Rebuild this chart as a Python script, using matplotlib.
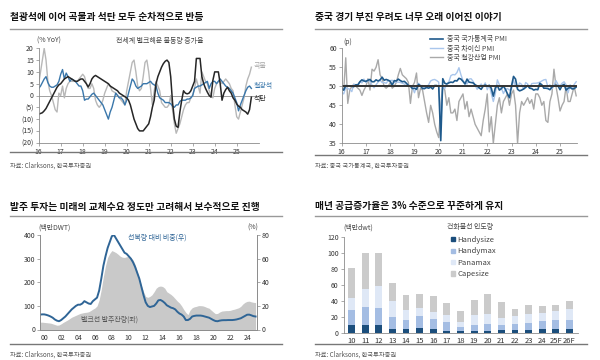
import numpy as np
import matplotlib
matplotlib.use('Agg')
import matplotlib.pyplot as plt
from matplotlib.lines import Line2D
from matplotlib.patches import Patch
from matplotlib.ticker import FuncFormatter

plt.rcParams['font.family'] = ['Noto Sans CJK KR', 'DejaVu Sans']

# ---------------- Panel 1: bulk seaborne trade growth (% YoY), monthly from 2016-01
grain = [5, 10, 15, 20, 15, 6, 2, 0, -3, -6, -7, 1,
         0, 4, -1, 3, 5, 6, 6, 6, 6, 6, 7, 8,
         9, 8, 5, 3, 3, 5, 3, -2, -4, -5, -4, -2,
         1, 3, 5, 4, 2, 1.5, 1, 0, -1, -2, -3, -4,
         2, 6, 10, 14, 15, 10, 4, 2, 3, 8, 14, 15,
         10, 3, -4, 2, 6, 4, 2, -3, -4, -5, -5, -4,
         0, -6, -12, -16, -14, -12, -9, -6, -4, -3, -3, -1,
         0, 3, 7, 4, 1, 10, 8, 6, 5, 2, 0, -1,
         3, 5, 6, 6, 5, 6, 7, 6, 5, 3, 2, -4,
         -9, -10, -7, -4, -1, 4, 7, 9, 12]
iron_ore = [3, 4, 5.5, 7, 8, 5.5, 4, 3.5, 3.5, 4, 4.5, 6,
            9, 11, 7, 9.5, 8, 6, 7, 6.5, 6, 5, 4, 4,
            2, -2, -1.5, -1.5, -0.5, 0.5, 1, 0, -1, -2, -3, -4,
            -6, -8, -10, -7, -5, -2, 1, 0, -1, -1, -2, -4,
            -2, 1, 4, 7, 6, 4, 3, 3.5, 4, 5, 5, 5,
            5.5, 6, 5, 4.5, 4, 1, -1, -1.5, -2, -3, -3, -3,
            -3.5, -4.5, -5, -4, -4, -2.5, -2, -2, -2, -1.5, -1.5, -1,
            0, 3, 3.5, 4, 4, 4.5, 5, 5.5, 6, 3, 5, 6,
            6, 5, 6, 7, 6, 5, 4, 3.5, 3, 2, 1, -1,
            -3, -6.5, -4, -2, 0, 2, 3.5, 4, 3]
coal = [-7.9, -7.6, -7.3, -6.5, -5.5, -4, -2.5, -1, 0.5, 2, 3.5, 4.5,
        5, 6, 7, 7.5, 8, 7.5, 7, 6.5, 6, 6, 6.5, 7,
        7, 6, 5, 3.6, 5, 7, 8, 8.5, 8, 7.5, 7, 6.5,
        6, 5.5, 5, 4, 3.5, 3, 2.5, 2, 1, 0.5, 0, -0.5,
        -1, -2, -4, -7, -10, -12, -14, -15, -15, -15, -14, -13,
        -12, -9, -5, -2, 5, 8, 10, 12, 13.5, 14.5, 15, 14,
        8, -3, -10, -13, -13.5, -7, -2, 2, 1, 0.7, 1, 2,
        4, 6, 15.7, 15.7, 15.7, 8, 5, 3, 1.4, 0, -0.7, 6.4,
        10, 10, 10, 5, -2, 1, 2.5, 3.5, 2, 1, -1, -2,
        -3.6, -4.5, -5, -6, -6.5, -7, -7.9, -6, -0.7]
p1_xlabels = ['16', '17', '18', '19', '20', '21', '22', '23', '24', '25']

# ---------------- Panel 2: China PMIs, monthly from 2016-01
pmi_nbs = [49.4, 49.0, 50.2, 50.1, 50.1, 50.0, 49.9, 50.4, 50.4, 51.2, 51.7, 51.4,
           51.3, 51.6, 51.8, 51.2, 51.2, 51.7, 51.4, 51.7, 52.4, 51.6, 51.8, 51.6,
           51.3, 50.3, 51.5, 51.4, 51.9, 51.5, 51.2, 51.3, 50.8, 50.2, 50.0, 49.4,
           49.5, 49.2, 50.5, 50.1, 49.4, 49.4, 49.7, 49.5, 49.8, 49.3, 50.2, 50.2,
           50.0, 35.7, 52.0, 50.8, 50.6, 50.9, 51.1, 51.0, 51.5, 51.4, 52.1, 51.9,
           51.3, 50.6, 51.9, 51.1, 51.0, 50.9, 50.4, 50.1, 49.6, 49.2, 50.1, 50.3,
           50.1, 50.2, 49.5, 47.4, 49.6, 50.2, 49.0, 49.4, 50.1, 49.2, 48.0, 47.0,
           50.1, 52.6, 51.9, 49.2, 48.8, 49.0, 49.3, 49.7, 50.2, 49.5, 49.4, 49.0,
           49.2, 49.1, 50.8, 50.4, 49.5, 49.5, 49.4, 49.1, 49.8, 50.1, 50.3, 50.1,
           49.1, 50.2, 50.5, 49.0, 49.5, 49.7, 49.3, 49.4, 49.8]
pmi_caixin = [48.4, 48.0, 49.7, 49.4, 49.2, 48.6, 50.6, 50.0, 50.1, 51.2, 50.9, 51.9,
              51.0, 51.7, 51.2, 50.3, 49.6, 50.4, 51.1, 51.6, 51.0, 51.0, 50.8, 51.5,
              51.5, 51.6, 51.0, 51.1, 51.1, 51.0, 50.8, 50.6, 50.0, 50.1, 50.2, 49.7,
              48.3, 49.9, 50.8, 50.2, 50.2, 49.4, 49.9, 50.4, 51.4, 51.7, 51.8, 51.5,
              51.1, 40.3, 50.1, 49.4, 50.7, 51.2, 52.8, 53.1, 53.0, 53.6, 54.9, 53.0,
              51.5, 50.9, 50.6, 51.9, 52.0, 51.3, 50.3, 49.2, 50.0, 50.6, 49.9, 50.9,
              49.1, 50.4, 48.1, 46.0, 48.1, 51.7, 50.4, 49.5, 48.1, 49.2, 49.4, 49.0,
              49.2, 51.6, 50.0, 49.5, 50.9, 50.5, 49.2, 51.0, 50.6, 49.5, 50.7, 50.8,
              50.8, 50.9, 51.1, 51.4, 51.7, 51.8, 49.8, 50.4, 49.3, 50.3, 51.5, 50.5,
              50.1, 50.8, 51.2, 50.4, 48.3, 50.4, 49.5, 50.5, 51.2]
pmi_steel = [49.7, 49, 57.5, 45.5, 49, 50, 50.5, 50, 49.5, 49, 47.6, 49,
             50, 52, 49, 54.5, 54, 55, 57, 53, 52, 50, 49.5, 50,
             51, 49.5, 50, 51, 53, 54.7, 53, 52.5, 52, 51, 45.5, 50,
             51, 53.5, 47, 49.5, 49, 46, 43, 40.5, 45, 43, 40, 38,
             36.5, 45, 50, 49, 45, 47, 43, 43, 44, 41, 46, 47,
             48, 44, 46, 42, 44, 42, 40, 39, 38, 37, 41, 44,
             48, 38, 42, 35, 40, 45, 47, 43, 46, 47, 48, 45,
             48, 49, 45, 35, 43, 46, 45, 46, 47, 45.5, 46.5, 44,
             48, 48, 47, 45, 46, 41, 40.5, 46, 48, 54.5, 50, 47,
             43.5, 45, 46, 50, 46, 46, 48, 50, 47.5]

# ---------------- Panel 3: bulk orderbook, quarterly from 2000Q1
orderbook_mdwt = [31, 31, 30, 29, 28, 27, 24, 21, 18, 19, 24, 30,
                  35, 40, 46, 52, 56, 60, 64, 68, 70, 72, 73, 75,
                  80, 86, 91, 100, 126, 170, 225, 270, 305, 322, 334, 330,
                  325, 318, 310, 306, 305, 308, 309, 303, 295, 275, 245, 215,
                  185, 160, 140, 136, 140, 147, 160, 175, 182, 184, 182, 175,
                  160, 154, 148, 140, 130, 120, 112, 100, 85, 72, 63, 82,
                  92, 96, 98, 101, 101, 100, 97, 93, 90, 82, 74, 67,
                  68, 74, 78, 79, 80, 80, 81, 84, 86, 89, 92, 98,
                  108, 115, 119, 120, 117, 115, 114]
orderbook_pct = [12.6, 12.8, 12.8, 12.4, 11.8, 11, 10, 8.5, 7.5, 7, 8, 9.5,
                 11, 13, 15, 17, 18.5, 20, 21, 21, 22, 24, 23, 22,
                 21.6, 24, 25.5, 27, 33, 43, 54, 62, 69, 74, 79, 80,
                 77, 74, 71, 68, 65, 64, 62, 60, 57, 53, 48, 43,
                 36, 29, 23, 20, 19, 19.5, 20, 22, 24.7, 25, 24, 22.5,
                 20.5, 19.5, 18.5, 18, 17, 15, 13.5, 12.6, 11, 8, 8, 9,
                 11, 11.5, 11.8, 11.8, 11.8, 11.5, 11, 10.5, 10, 9, 8, 7.2,
                 7, 7.5, 7.8, 7.9, 7.9, 8, 8, 8, 8.2, 8.5, 9, 9.5,
                 10.5, 11.5, 12.5, 12.6, 12, 11.3, 11]
p3_xlabels = ['00', '02', '04', '06', '08', '10', '12', '14', '16', '18', '20', '22', '24']

# ---------------- Panel 4: dry bulk deliveries (mn dwt)
p4_years = ['10', '11', '12', '13', '14', '15', '16', '17', '18', '19', '20',
            '21', '22', '23', '24', '25F', '26F']
handysize = [10, 11, 10, 6, 5, 7, 5, 3, 3, 3, 3, 4, 4, 4, 5, 6, 5]
handymax = [19, 22, 22, 15, 12, 15, 13, 11, 5, 8, 9, 7, 8, 9, 11, 11, 12]
panamax = [15, 22, 27, 20, 12, 10, 9, 9, 6, 12, 12, 8, 10, 11, 10, 11, 13]
capesize = [38, 46, 42, 22, 19, 17, 20, 15, 14, 19, 25, 20, 9, 11, 8, 8, 11]

# ---------------- figure
W, H = 600, 360
fig = plt.figure(figsize=(6, 3.6), dpi=100)


def rect(l, t, r, b):
    return [l / W, 1 - b / H, (r - l) / W, (b - t) / H]


def ftext(x, y, s, **kw):
    kw.setdefault('fontsize', 5)
    kw.setdefault('color', '#444444')
    kw.setdefault('va', 'center')
    fig.text(x / W, 1 - y / H, s, **kw)


def hline(x0, x1, y, color, lw):
    fig.add_artist(Line2D([x0 / W, x1 / W], [1 - y / H, 1 - y / H],
                          color=color, lw=lw, transform=fig.transFigure))


TICK = dict(labelsize=5, length=2, width=0.5, color='#888888', labelcolor='#333333', pad=1.5)


def style(ax, spines=('left', 'bottom')):
    ax.set_facecolor('none')
    for s in ['left', 'right', 'top', 'bottom']:
        ax.spines[s].set_visible(s in spines)
        ax.spines[s].set_color('#8c8c8c')
        ax.spines[s].set_linewidth(0.6)
    ax.tick_params(**TICK)


# titles / separators
for (x0, x1, ty, ly, by, sy, title, src) in [
    (10, 282, 17, 28.7, 151.7, 165.7, '철광석에 이어 곡물과 석탄 모두 순차적으로 반등', '자료: Clarksons, 한국투자증권'),
    (315, 587, 17, 29, 155, 165.7, '중국 경기 부진 우려도 너무 오래 이어진 이야기', '자료: 중국 국가통계국, 한국투자증권'),
    (10, 282, 206.7, 216, 344.3, 354.3, '발주 투자는 미래의 교체수요 정도만 고려해서 보수적으로 진행', '자료: Clarksons, 한국투자증권'),
    (315, 587, 206.5, 215.7, 344.3, 354.3, '매년 공급증가율은 3% 수준으로 꾸준하게 유지', '자료: Clarksons, 한국투자증권'),
]:
    ftext(x0, ty, title, fontsize=7, fontweight='bold', color='#111111')
    hline(x0, x1, ly, '#999999', 1.0)
    hline(x0, x1, by, '#777777', 1.0)
    ftext(x0, sy, src, fontsize=4.5, color='#555555')

# ---- Panel 1
ax1 = fig.add_axes(rect(38.7, 48.3, 258.7, 142.7))
style(ax1)
x1 = 2016 + np.arange(len(coal)) / 12
ax1.axhline(0, color='#a0a0a0', lw=0.7)
ax1.plot(x1, grain, color='#b8b8b8', lw=1.0)
ax1.plot(x1, iron_ore, color='#3a77ab', lw=1.0)
ax1.plot(x1, coal, color='#262626', lw=1.1)
ax1.set_xlim(2016, 2026)
ax1.set_ylim(-20, 20)
ax1.set_xticks(np.arange(2016, 2016 + len(p1_xlabels)))
ax1.set_xticklabels(p1_xlabels)
ax1.set_yticks(np.arange(-20, 21, 5))
ax1.yaxis.set_major_formatter(FuncFormatter(lambda v, p: f'({abs(int(v))})' if v < 0 else f'{int(v)}'))
ftext(49, 41, '(% YoY)', ha='center')
ftext(160, 41, '전세계 벌크해운 물동량 증가율', ha='center')
ftext(254, 66, '곡물', color='#a8a8a8')
ftext(254, 86, '철광석', color='#3a77ab')
ftext(254, 99, '석탄', color='#262626')

# ---- Panel 2
ax2 = fig.add_axes(rect(341.7, 48.3, 577, 143.3))
style(ax2)
x2 = 2016 + np.arange(len(pmi_nbs)) / 12
l_steel, = ax2.plot(x2, pmi_steel, color='#a9a9a9', lw=1.0)
l_cx, = ax2.plot(x2, pmi_caixin, color='#a9c6ec', lw=1.0)
l_nbs, = ax2.plot(x2, pmi_nbs, color='#1f5a8c', lw=1.2)
ax2.axhline(50, color='#333333', lw=1.4)
ax2.set_xlim(2016, 2025.7)
ax2.set_ylim(35, 60)
ax2.set_xticks(np.arange(2016, 2026))
ax2.set_xticklabels(p1_xlabels)
ax2.set_yticks(np.arange(35, 61, 5))
ftext(343, 41.7, '(p)', ha='left')
leg2 = ax2.legend([l_nbs, l_cx, l_steel], ['중국 국가통계국 PMI', '중국 차이신 PMI', '중국 철강산업 PMI'],
                  loc='upper left', bbox_to_anchor=(430 / W, 1 - 35.5 / H), bbox_transform=fig.transFigure,
                  frameon=False, fontsize=5, handlelength=1.9, handletextpad=0.5, labelspacing=0.15,
                  borderpad=0, borderaxespad=0)
for t in leg2.get_texts():
    t.set_color('#444444')

# ---- Panel 3
ax3 = fig.add_axes(rect(40, 235, 257, 329.5))
style(ax3, ('left', 'right', 'bottom'))
x3 = 2000 + np.arange(len(orderbook_mdwt)) / 4
ax3.fill_between(x3, 0, orderbook_mdwt, color='#c9c9c9', lw=0)
ax3.set_xlim(2000, 2025.67)
ax3.set_ylim(0, 400)
ax3.set_yticks(np.arange(0, 401, 100))
ax3.set_xticks(np.arange(len(p3_xlabels)) * 2 + 2000.5)
ax3.set_xticklabels(p3_xlabels)
ax3.tick_params(axis='x', length=0, pad=3)
ax3b = ax3.twinx()
style(ax3b, ('left', 'right', 'bottom'))
ax3b.plot(x3, orderbook_pct, color='#2f6596', lw=1.4)
ax3b.set_ylim(0, 80)
ax3b.set_yticks(np.arange(0, 81, 20))
ftext(55, 228, '(백만DWT)', ha='center')
ftext(253, 228, '(%)', ha='center')
ftext(157, 237.5, '선복량 대비 비중(우)', ha='center', color='#2f6596')
ftext(110, 320, '벌크선 발주잔량(좌)', ha='center', color='#555555')

# ---- Panel 4
ax4 = fig.add_axes(rect(343.5, 237.3, 577.5, 333.3))
style(ax4)
xi = np.arange(len(p4_years))
bw = 0.5
ax4.bar(xi, handysize, bw, color='#1b4e7c')
bot = np.array(handysize, dtype=float)
ax4.bar(xi, handymax, bw, bottom=bot, color='#a4bde3')
bot = bot + np.array(handymax)
ax4.bar(xi, panamax, bw, bottom=bot, color='#dfe8f6')
bot = bot + np.array(panamax)
ax4.bar(xi, capesize, bw, bottom=bot, color='#cbcbcb')
ax4.set_xlim(-0.6, len(p4_years) - 0.4)
ax4.set_ylim(0, 120)
ax4.set_yticks(np.arange(0, 121, 20))
ax4.set_xticks(xi)
ax4.set_xticklabels(p4_years)
ax4.tick_params(axis='x', length=0, labelsize=5.5, pad=3)
ftext(358, 227.7, '(백만dwt)', ha='center')
ftext(470, 227, '건화물선 인도량', ha='center')
leg4 = ax4.legend([Patch(color='#1b4e7c'), Patch(color='#a4bde3'), Patch(color='#dfe8f6'), Patch(color='#cbcbcb')],
                  ['Handysize', 'Handymax', 'Panamax', 'Capesize'],
                  loc='upper left', bbox_to_anchor=(451 / W, 1 - 236 / H), bbox_transform=fig.transFigure,
                  frameon=False, fontsize=5.5, handlelength=0.5, handleheight=0.5, handletextpad=0.3,
                  labelspacing=0.45, borderpad=0, borderaxespad=0)
for t in leg4.get_texts():
    t.set_color('#444444')

fig.savefig('out.png', dpi=100)
